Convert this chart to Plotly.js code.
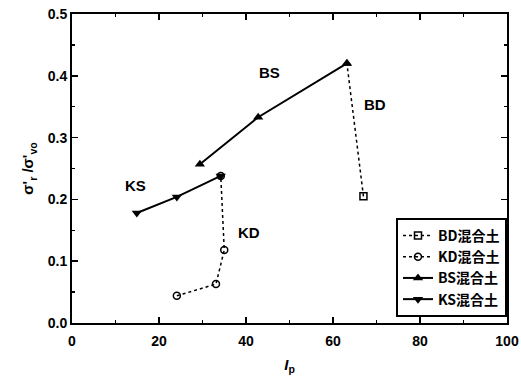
<!DOCTYPE html>
<html><head><meta charset="utf-8">
<script src="https://cdn.plot.ly/plotly-3.0.1.min.js"></script>
<style>body{margin:0;background:#fff}#c{width:521px;height:384px}</style>
</head><body><div id="c"></div>
<script>
const bdX = [67.0, 63.2];
const bdY = [0.205, 0.420];
const kdX = [24.1, 33.1, 35.0, 34.2];
const kdY = [0.044, 0.063, 0.118, 0.238];
const bsX = [29.4, 42.8, 63.2];
const bsY = [0.257, 0.333, 0.420];
const ksX = [14.9, 24.1, 34.2];
const ksY = [0.178, 0.204, 0.238];
const names = ['BD混合土', 'KD混合土', 'BS混合土', 'KS混合土'];
const labels = ['BS', 'BD', 'KS', 'KD'];
const labelX = [45.5, 69.7, 14.7, 40.7];
const labelY = [0.405, 0.354, 0.222, 0.146];

const F = 'Liberation Sans, Arial, sans-serif';
const traces = [
  {x: bdX, y: bdY, name: names[0], mode: 'lines+markers', line: {color: '#000', width: 1.5, dash: 'dot'},
   marker: {symbol: ['square-open', 'triangle-up'], size: 7, color: '#000', line: {width: 1.5}}},
  {x: kdX, y: kdY, name: names[1], mode: 'lines+markers', line: {color: '#000', width: 1.5, dash: 'dot'},
   marker: {symbol: 'circle-open', size: 7, color: '#000', line: {width: 1.5}}},
  {x: bsX, y: bsY, name: names[2], mode: 'lines+markers', line: {color: '#000', width: 2},
   marker: {symbol: 'triangle-up', size: 9, color: '#000'}},
  {x: ksX, y: ksY, name: names[3], mode: 'lines+markers', line: {color: '#000', width: 2},
   marker: {symbol: 'triangle-down', size: 9, color: '#000'}}
];

const annotations = labels.map((t, i) => ({x: labelX[i], y: labelY[i], text: '<b>' + t + '</b>',
  showarrow: false, font: {family: F, size: 15, color: '#000'}}));

const axisCommon = {showgrid: false, zeroline: false, showline: true, linecolor: '#000', linewidth: 2,
  mirror: 'ticks', ticks: 'inside', ticklen: 6, tickwidth: 1.5, tickcolor: '#000',
  tickfont: {family: F, size: 14, color: '#000', weight: 'bold'}};

const layout = {
  width: 521, height: 384,
  margin: {l: 72, r: 14, t: 14, b: 61},
  paper_bgcolor: '#fff', plot_bgcolor: '#fff',
  showlegend: true,
  legend: {x: 1, xanchor: 'right', y: 0.34, yanchor: 'top', bordercolor: '#000', borderwidth: 2,
    bgcolor: '#fff', font: {family: 'Noto Sans CJK JP, ' + F, size: 14, color: '#000', weight: 'bold'},
    tracegroupgap: 0, itemwidth: 30},
  xaxis: Object.assign({}, axisCommon, {range: [0, 100], dtick: 20, tick0: 0, ticklabelstandoff: 4,
    minor: {dtick: 10, ticks: 'inside', ticklen: 3, tickcolor: '#000'},
    title: {text: '<b><i>I</i><sub>p</sub></b>', font: {family: F, size: 15, color: '#000'}, standoff: 12}}),
  yaxis: Object.assign({}, axisCommon, {range: [0, 0.5], dtick: 0.1, tick0: 0, tickformat: '.1f',
    minor: {dtick: 0.05, ticks: 'inside', ticklen: 3, tickcolor: '#000'},
    title: {text: "<b>σ'<sub>r</sub> /σ'<sub>vo</sub></b>", font: {family: F, size: 15, color: '#000'}, standoff: 10}}),
  annotations: annotations
};
Plotly.newPlot('c', traces, layout, {staticPlot: true});
</script></body></html>
